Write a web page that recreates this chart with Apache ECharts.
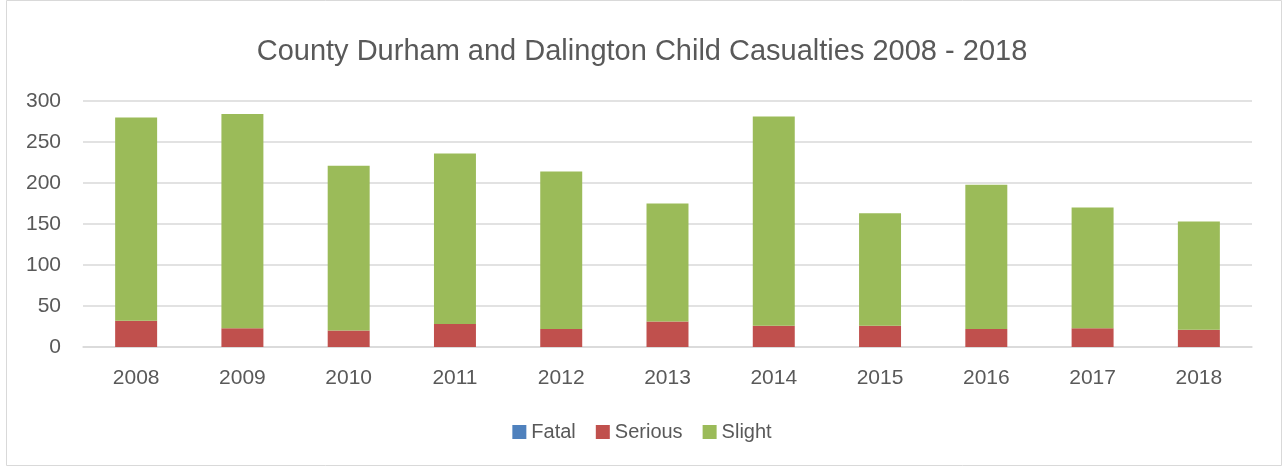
<!DOCTYPE html>
<html><head><meta charset="utf-8">
<script src="https://cdn.jsdelivr.net/npm/echarts@6/dist/echarts.min.js"></script>
<style>html,body{margin:0;padding:0;background:#fff}#c{width:1284px;height:466px}</style>
</head><body><div id="c"></div>
<script>
const years = ['2008','2009','2010','2011','2012','2013','2014','2015','2016','2017','2018'];
const fatal = [0,0,0,0,0,0,0,0,0,0,0];
const serious = [32,23,20,28,22,31,26,26,22,23,21];
const slight = [248,261,201,208,192,144,255,137,176,147,132];
const yTicks = [0,50,100,150,200,250,300];

const FONT = 'Liberation Sans';
const chart = echarts.init(document.getElementById('c'), null, {renderer:'canvas'});
const mk = (name, data, color) => ({
  name, type:'bar', stack:'t', data, barWidth:'39.5%',
  itemStyle:{color}, emphasis:{disabled:true}
});
chart.setOption({
  animation:false,
  textStyle:{fontFamily:FONT},
  graphic:[{type:'rect', shape:{x:6.5,y:0.5,width:1275,height:465}, style:{fill:'none', stroke:'#d9d9d9', lineWidth:1}, silent:true}],
  title:{text:'County Durham and Dalington Child Casualties 2008 - 2018', left:'center', top:32,
    textStyle:{fontFamily:FONT, fontSize:29, fontWeight:'normal', color:'#595959'}},
  legend:{bottom:19, left:'center', itemWidth:14, itemHeight:14, itemGap:20, icon:'rect',
    textStyle:{fontFamily:FONT, fontSize:20, color:'#595959'}, data:['Fatal','Serious','Slight']},
  grid:{left:83, right:32, top:101, bottom:119, containLabel:false},
  xAxis:{type:'category', data:years, axisTick:{show:false},
    axisLine:{lineStyle:{color:'#d9d9d9', width:1.5}},
    axisLabel:{fontFamily:FONT, fontSize:21, color:'#595959', margin:21}},
  yAxis:{type:'value', min:yTicks[0], max:yTicks[yTicks.length-1], interval:50,
    axisLine:{show:false}, axisTick:{show:false},
    splitLine:{lineStyle:{color:'#d9d9d9', width:1.5}},
    axisLabel:{fontFamily:FONT, fontSize:21, color:'#595959', margin:22}},
  series:[mk('Fatal',fatal,'#4F81BD'), mk('Serious',serious,'#C0504D'), mk('Slight',slight,'#9BBB59')]
});
</script></body></html>
